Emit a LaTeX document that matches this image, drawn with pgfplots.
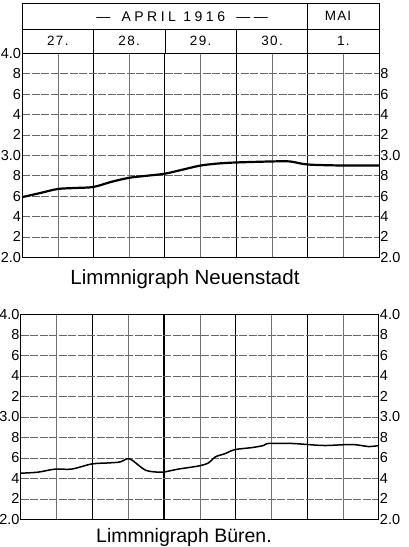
\documentclass[border=0pt]{standalone}
\usepackage{pgfplots}
\pgfplotsset{compat=1.18}
\usepackage{fontspec}
\setmainfont{Liberation Sans}
\begin{document}
\begin{tikzpicture}[x=1pt,y=1pt]
\useasboundingbox (0,0) rectangle (409,547);
\pgfplotsset{
  limbase/.style={
    scale only axis,
    xmin=0, xmax=5, ymin=2, ymax=4,
    xtick={1,2,3,4}, xticklabels={},
    minor xtick={0.5,1.5,2.5,3.5,4.5},
    ytick={2,2.2,2.4,2.6,2.8,3,3.2,3.4,3.6,3.8,4},
    major tick length=0pt, minor tick length=0pt,
    axis line style={line width=1pt},
    tick label style={font=\fontsize{14.5}{14.5}\selectfont, inner sep=1pt},
    clip=false,
  },
  limgrid/.style={
    xmajorgrids, xminorgrids, ymajorgrids,
    major x grid style={black, line width=1.1pt},
    minor x grid style={black!55, line width=0.5pt},
    major y grid style={black!60, line width=0.6pt, dash pattern=on 8pt off 1.5pt},
  },
}
% ---------- Plot 1: Neuenstadt ----------
\begin{axis}[limbase, limgrid, at={(31,284)}, anchor=south west,
  width=357pt, height=204pt,
  yticklabels={2.0,2,4,6,8,3.0,2,4,6,8,4.0}]
\addplot[black, line width=2.2pt, smooth] coordinates {
(0,2.59) (0.25,2.63) (0.5,2.67) (0.75,2.68) (1.0,2.69) (1.25,2.74)
(1.5,2.78) (1.75,2.80) (2.0,2.82) (2.25,2.86) (2.5,2.90) (2.75,2.92)
(3.0,2.93) (3.5,2.94) (3.75,2.94) (4.0,2.91) (4.5,2.90) (5.0,2.90)};
% header box
\draw[line width=1pt] (rel axis cs:0,1) rectangle (rel axis cs:1,1.245);
\draw[line width=0.8pt] (rel axis cs:0,1.118) -- (rel axis cs:1,1.118);
\draw[line width=0.8pt] (rel axis cs:0.2,1) -- (rel axis cs:0.2,1.118);
\draw[line width=0.8pt] (rel axis cs:0.4,1) -- (rel axis cs:0.4,1.118);
\draw[line width=0.8pt] (rel axis cs:0.6,1) -- (rel axis cs:0.6,1.118);
\draw[line width=0.8pt] (rel axis cs:0.8,1) -- (rel axis cs:0.8,1.245);
\node[font=\fontsize{13.5}{13.5}\selectfont] at (rel axis cs:0.1,1.059) {\addfontfeature{LetterSpace=10}27.};
\node[font=\fontsize{13.5}{13.5}\selectfont] at (rel axis cs:0.3,1.059) {\addfontfeature{LetterSpace=10}28.};
\node[font=\fontsize{13.5}{13.5}\selectfont] at (rel axis cs:0.5,1.059) {\addfontfeature{LetterSpace=10}29.};
\node[font=\fontsize{13.5}{13.5}\selectfont] at (rel axis cs:0.7,1.059) {\addfontfeature{LetterSpace=10}30.};
\node[font=\fontsize{13.5}{13.5}\selectfont] at (rel axis cs:0.9,1.059) {\addfontfeature{LetterSpace=10}1.};
\node[font=\fontsize{14}{14}\selectfont] at (rel axis cs:0.448,1.182)
  {\addfontfeature{LetterSpace=25}—\; APRIL 1916 \;——};
\node[font=\fontsize{13.5}{13.5}\selectfont] at (rel axis cs:0.885,1.182)
  {\addfontfeature{LetterSpace=8}MAI};
\end{axis}
\begin{axis}[limbase, at={(31,284)}, anchor=south west,
  width=357pt, height=204pt,
  yticklabel pos=right,
  yticklabels={2.0,2,4,6,8,3.0,2,4,6,8,{}}]
\end{axis}
% ---------- Plot 2: Bueren ----------
\begin{axis}[limbase, limgrid, at={(29,27)}, anchor=south west,
  width=358pt, height=205pt,
  yticklabels={2.0,2,4,6,8,3.0,2,4,6,8,4.0}]
\addplot[black, line width=1.5pt, smooth] coordinates {
(0,2.45) (0.24,2.46) (0.48,2.49) (0.71,2.49) (0.99,2.54) (1.22,2.55)
(1.39,2.56) (1.48,2.59) (1.55,2.58) (1.74,2.48) (1.92,2.46) (1.99,2.46)
(2.20,2.49) (2.48,2.52) (2.62,2.55) (2.72,2.61) (2.85,2.64) (2.99,2.68)
(3.23,2.70) (3.39,2.72) (3.46,2.74) (3.79,2.74) (4.0,2.73) (4.25,2.72)
(4.63,2.73) (4.86,2.71) (5.0,2.72)};
\end{axis}
\begin{axis}[limbase, at={(29,27)}, anchor=south west,
  width=358pt, height=205pt,
  yticklabel pos=right,
  yticklabels={2.0,2,4,6,8,3.0,2,4,6,8,4.0}]
\end{axis}
% titles
\node[font=\fontsize{20.5}{20.5}\selectfont] at (185,268) {Limmnigraph Neuenstadt};
\node[font=\fontsize{19.5}{19.5}\selectfont] at (184,10) {Limmnigraph Büren.};
\end{tikzpicture}
\end{document}
